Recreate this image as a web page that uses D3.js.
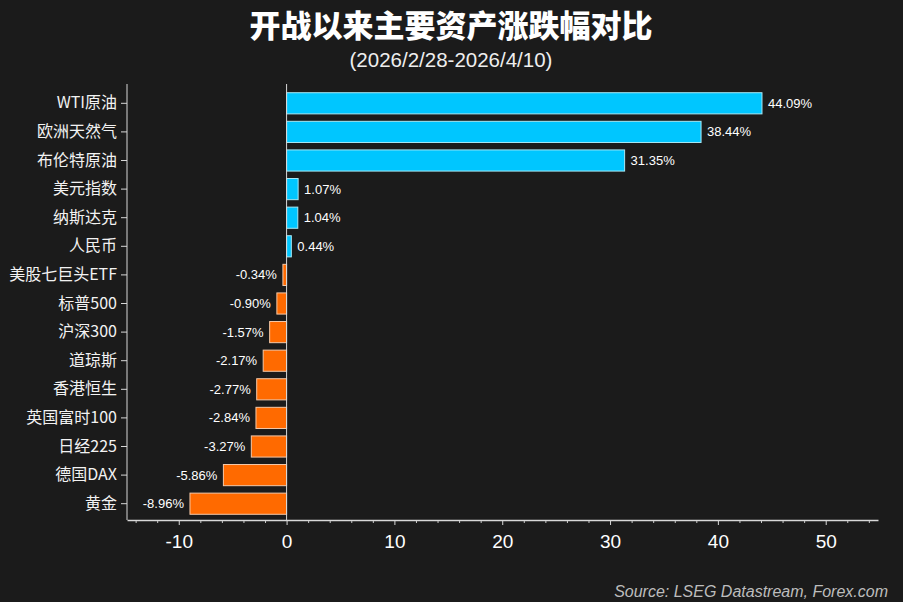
<!DOCTYPE html>
<html><head><meta charset="utf-8">
<script src="https://cdn.jsdelivr.net/npm/d3@7"></script>
<style>
html,body{margin:0;padding:0;background:#1b1b1b;}
svg{display:block;}
</style></head>
<body>
<svg id="chart" width="903" height="602"></svg>
<script>
const categories = ["WTI原油","欧洲天然气","布伦特原油","美元指数","纳斯达克","人民币","美股七巨头ETF","标普500","沪深300","道琼斯","香港恒生","英国富时100","日经225","德国DAX","黄金"];
const values = [44.09,38.44,31.35,1.07,1.04,0.44,-0.34,-0.90,-1.57,-2.17,-2.77,-2.84,-3.27,-5.86,-8.96];
const xTicks = [-10,0,10,20,30,40,50];
const titleText = "开战以来主要资产涨跌幅对比";
const subtitleText = "(2026/2/28-2026/4/10)";
const sourceText = "Source: LSEG Datastream, Forex.com";

const svg = d3.select("#chart");
svg.append("rect").attr("width",903).attr("height",602).attr("fill","#1b1b1b");

const mLeft = 127, mRight = 878, mTop = 88, mBottom = 520;
const x = d3.scaleLinear().domain([-14.8, 54.85]).range([mLeft, mRight]);
const y = d3.scaleBand().domain(categories).range([mTop + 1, 518]).paddingInner(0.26).paddingOuter(0.13);

svg.append("text").attr("x",451).attr("y",37).attr("text-anchor","middle")
  .attr("fill","#ffffff").attr("font-family","'Noto Sans CJK SC'").attr("font-weight","900")
  .attr("font-size",31).text(titleText);
svg.append("text").attr("x",451).attr("y",67).attr("text-anchor","middle")
  .attr("fill","#eeeeee").attr("font-family","'Liberation Sans',Arial").attr("font-size",20.5).text(subtitleText);

// bars
svg.selectAll("rect.bar").data(values).enter().append("rect").attr("class","bar")
  .attr("x", d => x(Math.min(0,d)))
  .attr("y", (d,i) => y(categories[i]))
  .attr("width", d => Math.abs(x(d)-x(0)))
  .attr("height", y.bandwidth())
  .attr("fill", d => d >= 0 ? "#00c6ff" : "#ff6a00")
  .attr("stroke", d => d >= 0 ? "#a8e8f5" : "#f5c9a8")
  .attr("stroke-width", 1);

// value labels
svg.selectAll("text.val").data(values).enter().append("text").attr("class","val")
  .attr("x", d => d >= 0 ? x(d) + 6 : x(d) - 6)
  .attr("y", (d,i) => y(categories[i]) + y.bandwidth()/2 + 4.5)
  .attr("text-anchor", d => d >= 0 ? "start" : "end")
  .attr("fill","#ffffff").attr("font-family","'Liberation Sans',Arial").attr("font-size",13)
  .text(d => d.toFixed(2) + "%");

// zero line
svg.append("line").attr("x1",x(0)).attr("x2",x(0)).attr("y1",mTop-4).attr("y2",mBottom)
  .attr("stroke","#d8d8d8").attr("stroke-width",1);

// y axis
const yAxis = svg.append("g").attr("transform",`translate(${mLeft},0)`)
  .call(d3.axisLeft(y).tickSize(6).tickPadding(4).tickSizeOuter(0));
yAxis.select(".domain").attr("stroke","#d8d8d8").attr("d",`M0,${mTop-4}V${mBottom}`);
yAxis.selectAll(".tick line").attr("stroke","#d8d8d8");
yAxis.selectAll(".tick text").attr("fill","#f2f2f2").attr("font-size",16)
  .attr("font-family","'Noto Sans CJK SC','Liberation Sans',Arial");

// x axis minor
const minor = d3.range(-14, 55, 2).filter(v => v % 10 !== 0);
svg.append("g").attr("transform",`translate(0,${mBottom})`)
  .call(d3.axisBottom(x).tickValues(minor).tickSize(3).tickFormat("").tickSizeOuter(0))
  .call(g => g.select(".domain").remove())
  .call(g => g.selectAll(".tick line").attr("stroke","#c8c8c8"));
const xAxis = svg.append("g").attr("transform",`translate(0,${mBottom})`)
  .call(d3.axisBottom(x).tickValues(xTicks).tickSize(5).tickPadding(10).tickSizeOuter(0).tickFormat(d => String(d)));
xAxis.select(".domain").attr("stroke","#d8d8d8").attr("stroke-width",1.5);
xAxis.selectAll(".tick line").attr("stroke","#d8d8d8");
xAxis.selectAll(".tick text").attr("fill","#ffffff").attr("font-size",19)
  .attr("font-family","'Liberation Sans',Arial");

svg.append("text").attr("x",888).attr("y",597).attr("text-anchor","end")
  .attr("fill","#bdbdbd").attr("font-style","italic").attr("font-size",16)
  .attr("font-family","'Liberation Sans',Arial").text(sourceText);
</script>
</body></html>
